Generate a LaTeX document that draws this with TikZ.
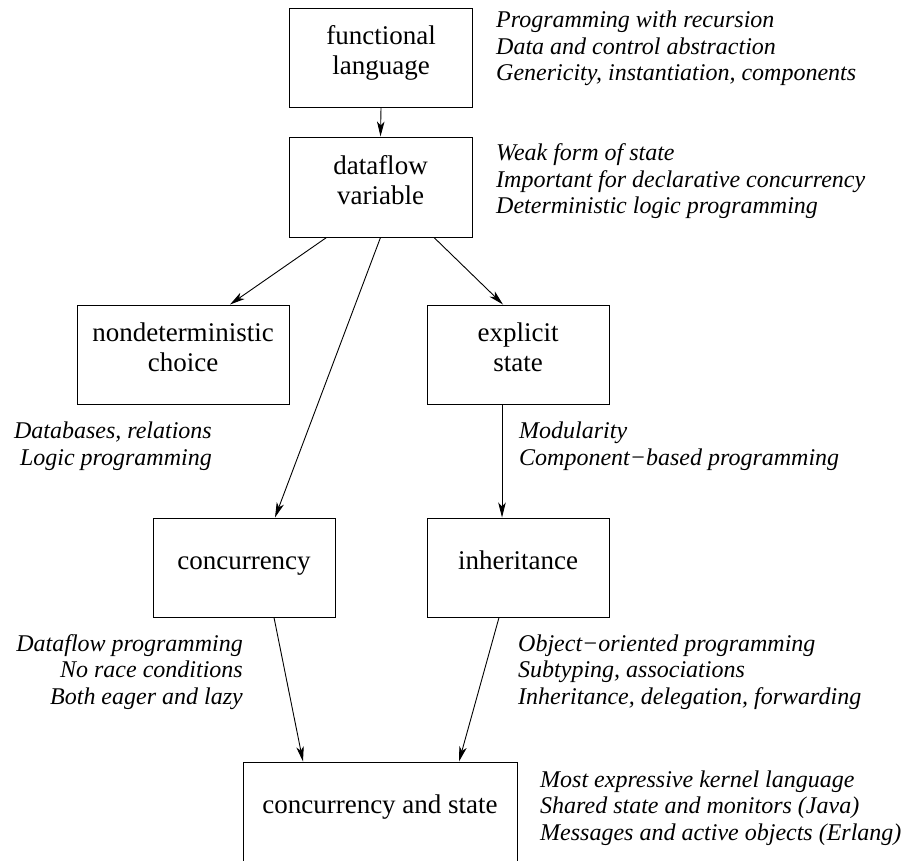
\documentclass[tikz,border=0pt]{standalone}
\usepackage{fontspec}
\setmainfont{Liberation Serif}
\usetikzlibrary{arrows.meta}
\newcommand\bxtop{\rule{0pt}{21pt}}
\newcommand\bxbot{\rule[-17pt]{0pt}{17pt}}
\begin{document}
\begin{tikzpicture}[x=1pt,y=-1pt,
  box/.style={draw, line width=1pt, inner sep=0pt, minimum height=99pt, align=center, font=\fontsize{27}{30}\selectfont},
  note/.style={inner sep=0pt, font=\fontsize{24}{26.5}\selectfont\itshape},
  arr/.style={line width=0.9pt, -{Stealth[length=15pt,width=7.5pt,inset=4pt]}}]
\useasboundingbox (0,0) rectangle (909,860);
\clip (0,0) rectangle (909,860);
\node[box, minimum width=183pt] (fl) at (381,57.5) {\bxtop functional\\language\bxbot};
\node[box, minimum width=183pt, minimum height=100pt] (df) at (380.5,187) {\bxtop dataflow\\variable\bxbot};
\node[box, minimum width=212pt] (nd) at (183,354.5) {\bxtop nondeterministic\\choice\bxbot};
\node[box, minimum width=182pt] (ex) at (518,354.5) {\bxtop explicit\\state\bxbot};
\node[box, minimum width=182pt] (cc) at (244,567.5) {\bxtop concurrency\bxbot};
\node[box, minimum width=182pt] (ih) at (518,567.5) {\bxtop inheritance\bxbot};
\node[box, minimum width=274pt] (cs) at (380,811.5) {\bxtop concurrency and state\bxbot};

\draw[arr] (fl.south) -- (df.north);
\draw[arr] ([xshift=-54pt]df.south) -- ([xshift=47pt]nd.north);
\draw[arr] (df.south) -- ([xshift=31pt]cc.north);
\draw[arr] ([xshift=53.5pt]df.south) -- ([xshift=-15pt]ex.north);
\draw[arr] ([xshift=-16pt]ex.south) -- ([xshift=-16pt]ih.north);
\draw[arr] ([xshift=30pt]cc.south) -- ([xshift=-77pt]cs.north);
\draw[arr] ([xshift=-19pt]ih.south) -- ([xshift=79pt]cs.north);

\node[note, anchor=west, align=left] (t1) at (496,48.5) {Programming with recursion\\Data and control abstraction\\Genericity, instantiation, components};
\node[note, anchor=west, align=left] (t2) at (496,181.5) {Weak form of state\\Important for declarative concurrency\\Deterministic logic programming};
\node[note, anchor=east, align=right] (t3) at (212,446) {Databases, relations\\Logic programming};
\node[note, anchor=west, align=left] (t4) at (519,446) {Modularity\\Component−based programming};
\node[note, anchor=east, align=right] (t5) at (243,672) {Dataflow programming\\No race conditions\\Both eager and lazy};
\node[note, anchor=west, align=left] (t6) at (518,672) {Object−oriented programming\\Subtyping, associations\\Inheritance, delegation, forwarding};
\node[note, anchor=west, align=left] (t7) at (540,808) {Most expressive kernel language\\Shared state and monitors (Java)\\Messages and active objects (Erlang)};
\end{tikzpicture}
\end{document}
